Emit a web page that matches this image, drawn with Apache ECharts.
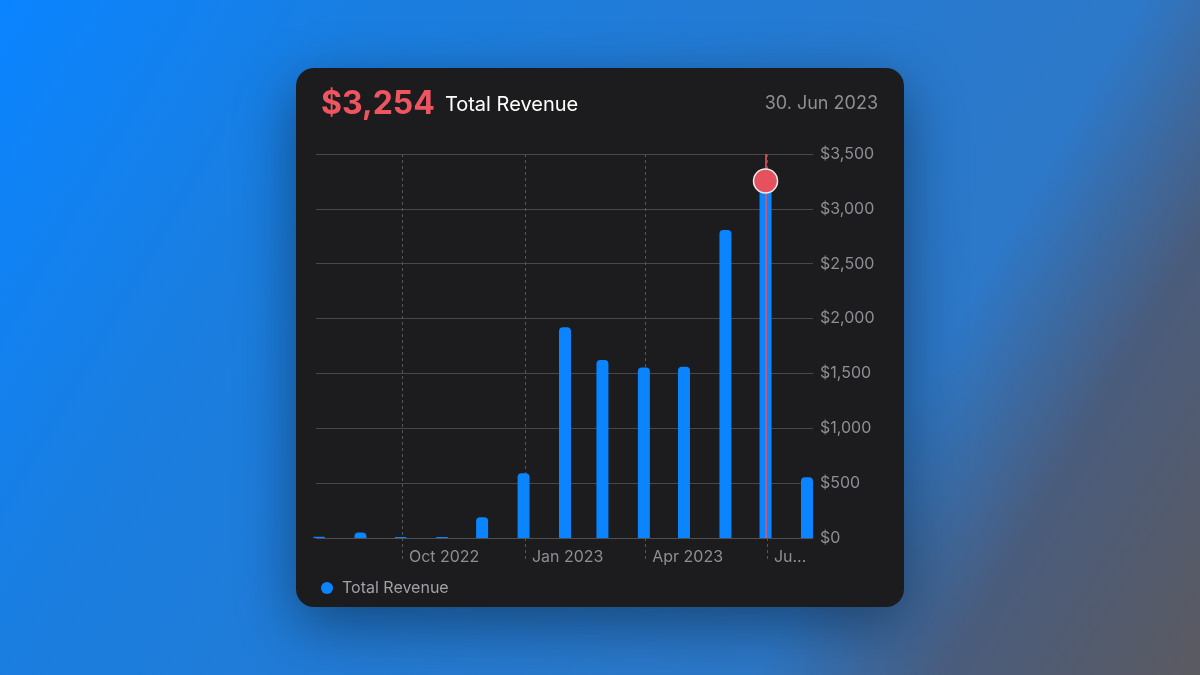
<!DOCTYPE html>
<html>
<head>
<meta charset="utf-8">
<script src="https://cdn.jsdelivr.net/npm/echarts@6/dist/echarts.min.js"></script>
<style>
  html, body { margin: 0; padding: 0; }
  body {
    width: 1200px; height: 675px; overflow: hidden; position: relative;
    background: linear-gradient(120deg, #0a84ff 0%, #1a7ee0 24%, #2d78c8 72%, #4a5c7c 84%, #5b5a60 100%);
  }
  #card {
    position: absolute; left: 296px; top: 68px; width: 608px; height: 539px;
    border-radius: 18px; background: #1c1c1e;
    box-shadow: 0 18px 60px rgba(0,0,0,0.42);
  }
  #chart { position: absolute; left: 0; top: 0; width: 1200px; height: 675px; }
</style>
</head>
<body>
<div id="card"></div>
<div id="chart"></div>
<script>
// ---- data ----
const monthEnds = ['2022-07-31','2022-08-31','2022-09-30','2022-10-31','2022-11-30','2022-12-31',
                   '2023-01-31','2023-02-28','2023-03-31','2023-04-30','2023-05-31','2023-06-30','2023-07-31'];
const revenue = [12, 50, 9, 8, 189, 590, 1921, 1623, 1553, 1560, 2808, 3254, 553];
const tickDates = ['2022-10-01','2023-01-01','2023-04-01','2023-07-01'];
const tickLabels = ['Oct 2022','Jan 2023','Apr 2023','Jul 2023'];
const selectedIndex = 11;
const selectedDateLabel = '30. Jun 2023';
const seriesName = 'Total Revenue';
const xRange = ['2022-07-28T18:00:00Z', '2023-08-04T12:00:00Z'];

const fmtMoney = v => '$' + v.toLocaleString('en-US');
const ts = d => Date.parse(d);
const tickTs = tickDates.map(ts);
const barData = monthEnds.map((d, i) => [ts(d), revenue[i]]);

const chart = echarts.init(document.getElementById('chart'), null, { renderer: 'canvas' });
const font = 'Inter, Roboto, "Noto Sans", sans-serif';

chart.setOption({
  animation: false,
  textStyle: { fontFamily: font },
  title: [
    {
      left: 316, top: 83,
      text: '{v|' + fmtMoney(revenue[selectedIndex]) + '}{n|' + seriesName + '}',
      textStyle: {
        rich: {
          v: { fontFamily: font, fontSize: 32, fontWeight: 'bold', color: '#ef5561', padding: [0, 10, 0, 0] },
          n: { fontFamily: font, fontSize: 20, fontWeight: 'normal', color: '#ffffff', padding: [1, 0, 0, 0] }
        }
      }
    },
    {
      right: 1200 - 883, top: 90,
      text: selectedDateLabel,
      textStyle: { fontFamily: font, fontSize: 18, fontWeight: 'normal', color: '#8e8e93' }
    }
  ],
  legend: {
    left: 316, top: 575,
    icon: 'circle', itemWidth: 12, itemHeight: 12, itemGap: 10,
    textStyle: { color: '#a1a1a6', fontSize: 16, fontFamily: font, padding: [0, 0, 0, 4] },
    data: [seriesName]
  },
  grid: { left: 316, right: 1200 - 813, top: 154, bottom: 675 - 538, containLabel: false },
  xAxis: {
    type: 'value',
    min: ts(xRange[0]), max: ts(xRange[1]),
    axisLine: { show: true, lineStyle: { color: '#505053', width: 1 } },
    axisTick: { show: true, length: 24, customValues: tickTs,
                lineStyle: { color: '#56565a', type: [3, 3], width: 1 } },
    splitLine: { show: true, lineStyle: { color: '#56565a', type: [3, 3], width: 1 } },
    axisLabel: {
      customValues: tickTs,
      align: 'left', margin: 11, padding: [0, 0, 0, 7],
      color: '#8e8e93', fontSize: 16, fontFamily: font,
      formatter: function (val) {
        const i = tickTs.indexOf(val);
        const s = i >= 0 ? tickLabels[i] : '';
        return i === tickTs.length - 1 ? s.slice(0, 2) + '...' : s;
      }
    }
  },
  yAxis: {
    type: 'value', position: 'right',
    min: 0, max: 3500, interval: 500,
    axisLine: { show: false }, axisTick: { show: false },
    splitLine: { lineStyle: { color: '#48484b', width: 1 } },
    axisLabel: { margin: 7, color: '#8e8e93', fontSize: 16, fontFamily: font, formatter: v => fmtMoney(v) }
  },
  series: [{
    name: seriesName, type: 'bar',
    data: barData,
    barWidth: 12,
    itemStyle: { color: '#0a84ff', borderRadius: [4, 4, 0, 0] },
    emphasis: { disabled: true },
    markLine: {
      silent: true, symbol: ['none', 'none'],
      label: { show: false },
      lineStyle: { color: 'rgba(236,82,94,0.8)', width: 2, type: 'solid' },
      data: [{ xAxis: ts(monthEnds[selectedIndex]) }]
    },
    markPoint: {
      silent: true,
      symbol: 'circle', symbolSize: 24,
      itemStyle: { color: '#e5525e', borderColor: '#eeeeee', borderWidth: 1.5 },
      label: { show: false },
      data: [{ coord: [ts(monthEnds[selectedIndex]), revenue[selectedIndex]] }]
    }
  }]
});
</script>
</body>
</html>
